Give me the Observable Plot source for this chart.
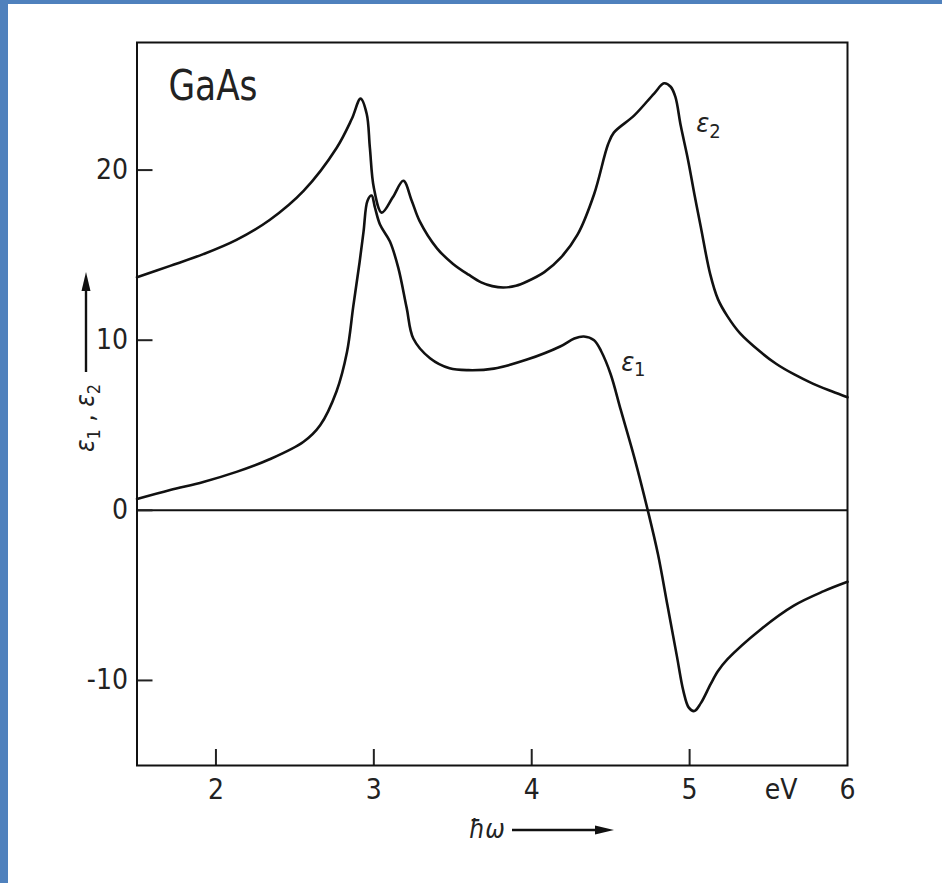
<!DOCTYPE html>
<html>
<head>
<meta charset="utf-8">
<script src="https://cdn.jsdelivr.net/npm/d3@7"></script>
<script src="https://cdn.jsdelivr.net/npm/@observablehq/plot@0.6"></script>
<style>
  html, body { margin: 0; padding: 0; background: #fff; }
  #wrap { position: relative; width: 942px; height: 883px; overflow: hidden; background: #fff; }
  #chart { position: absolute; left: 0; top: 0; }
  #edgeTop { position: absolute; left: 0; top: 0; width: 942px; height: 4px; background: #4f81bd; }
  #edgeLeft { position: absolute; left: 0; top: 0; width: 8px; height: 883px; background: #4f81bd; }
  svg text { font-stretch: condensed; }
</style>
</head>
<body>
<div id="wrap">
  <div id="chart"></div>
  <div id="edgeTop"></div>
  <div id="edgeLeft"></div>
</div>
<script>
// Dielectric function of GaAs: real part ε1 and imaginary part ε2 versus photon energy (eV)
const sampleName = "GaAs";

const energyE2 = [1.5, 1.71, 1.92, 2.13, 2.34, 2.555, 2.764, 2.86, 2.916, 2.955, 2.975, 3.0, 3.05, 3.12, 3.187, 3.24, 3.29, 3.40, 3.50, 3.60, 3.68, 3.75, 3.82, 3.90, 3.97, 4.08, 4.184, 4.29, 4.395, 4.483, 4.52, 4.648, 4.775, 4.838, 4.88, 4.91, 4.944, 4.99, 5.03, 5.07, 5.13, 5.18, 5.24, 5.32, 5.45, 5.55, 5.66, 5.78, 5.9, 6.0];
const eps2 = [13.7, 14.37, 15.06, 15.9, 17.07, 18.78, 21.3, 23.0, 24.2, 23.3, 21.3, 18.96, 17.5, 18.4, 19.37, 18.2, 17.0, 15.4, 14.5, 13.85, 13.4, 13.18, 13.1, 13.2, 13.45, 14.0, 14.85, 16.2, 18.58, 21.5, 22.2, 23.2, 24.5, 25.1, 24.9, 24.3, 22.6, 20.6, 18.6, 16.7, 13.9, 12.4, 11.4, 10.4, 9.3, 8.6, 8.0, 7.45, 7.0, 6.65];

const energyE1 = [1.5, 1.71, 1.92, 2.13, 2.34, 2.555, 2.66, 2.764, 2.83, 2.87, 2.91, 2.935, 2.96, 2.986, 3.007, 3.039, 3.102, 3.155, 3.208, 3.25, 3.356, 3.48, 3.6, 3.76, 3.97, 4.18, 4.27, 4.33, 4.395, 4.44, 4.5, 4.564, 4.65, 4.735, 4.80, 4.86, 4.92, 4.96, 4.995, 5.03, 5.07, 5.134, 5.18, 5.24, 5.45, 5.66, 5.85, 6.0];
const eps1 = [0.67, 1.2, 1.67, 2.26, 3.0, 4.03, 5.0, 7.0, 9.3, 12.0, 14.6, 16.4, 18.2, 18.5, 17.8, 16.8, 15.8, 14.25, 11.9, 10.1, 8.94, 8.35, 8.24, 8.33, 8.86, 9.63, 10.1, 10.22, 10.0, 9.35, 8.0, 5.9, 3.1, 0, -2.6, -5.6, -8.6, -10.6, -11.6, -11.8, -11.35, -10.2, -9.45, -8.75, -7.0, -5.6, -4.75, -4.2];

const xTicks = [2, 3, 4, 5, 6];
const yTicks = [-10, 0, 10, 20];
const xUnit = "eV";
const xUnitAt = 5.58;

// curve labels: symbol plus subscript, anchored near each curve
const labelSymbols = ["ε", "ε"];
const labelSubs = ["2", "1"];
const labelEnergy = [5.084, 4.608];
const labelValue = [22.76, 8.72];

const rowsE2 = energyE2.map((e, i) => ({energy: e, value: eps2[i]}));
const rowsE1 = energyE1.map((e, i) => ({energy: e, value: eps1[i]}));
const curveLabels = labelSymbols.map((s, i) => ({symbol: s, sub: labelSubs[i], energy: labelEnergy[i], value: labelValue[i]}));

const W = 942, H = 883;
const mL = 136.5, mR = 95, mT = 42, mB = 118;
const innerW = W - mL - mR;
const innerH = H - mT - mB;
const narrow = "'DejaVu Sans Condensed', 'DejaVu Sans', sans-serif";
const greek = "'DejaVu Sans', sans-serif";
const ink = "#111";

const plot = Plot.plot({
  width: W,
  height: H,
  marginLeft: mL,
  marginRight: mR,
  marginTop: mT,
  marginBottom: mB,
  style: {fontFamily: narrow, fontSize: "28px", color: "#222", background: "transparent", overflow: "visible"},
  x: {domain: [1.5, 6]},
  y: {domain: [-15, 27.5]},
  marks: [
    Plot.ruleY([0], {stroke: ink, strokeWidth: 2}),
    // short inward tick marks
    Plot.tickY(yTicks, {y: d => d, stroke: "#222", strokeWidth: 2, insetRight: innerW - 16}),
    Plot.tickX(xTicks.filter(d => d < 6), {x: d => d, stroke: "#222", strokeWidth: 2, insetTop: innerH - 16}),
    Plot.axisY({ticks: yTicks, tickSize: 0, tickPadding: 9, tickFormat: d => String(d), label: null}),
    Plot.axisX({ticks: xTicks, tickSize: 0, tickPadding: 14, tickFormat: d => String(d), label: null}),
    Plot.text([xUnit], {x: xUnitAt, frameAnchor: "bottom", text: d => d, dy: 14, lineAnchor: "top", fontSize: 28, fill: "#222"}),
    Plot.frame({stroke: ink, strokeWidth: 2}),
    Plot.line(rowsE2, {x: "energy", y: "value", curve: "catmull-rom", stroke: ink, strokeWidth: 2.6}),
    Plot.line(rowsE1, {x: "energy", y: "value", curve: "catmull-rom", stroke: ink, strokeWidth: 2.6}),
    Plot.text([sampleName], {frameAnchor: "top-left", text: d => d, dx: 31.5, dy: 27, textAnchor: "start", lineAnchor: "top", fontSize: 43, fill: "#222"}),
    Plot.text(curveLabels, {x: "energy", y: "value", text: "symbol", fontFamily: greek, fontStyle: "italic", fontSize: 27, fill: "#222"}),
    Plot.text(curveLabels, {x: "energy", y: "value", text: "sub", fontSize: 20, dx: 12, dy: 8, fill: "#222"})
  ]
});

const svg = d3.select(plot);

// narrow lettering for the sample name
svg.selectAll("text").filter(function() { return this.textContent === sampleName; })
  .attr("textLength", 89).attr("lengthAdjust", "spacingAndGlyphs");

// axis titles with arrows
const g = svg.append("g").attr("fill", "#222").attr("stroke", "none");

// vertical title: ε1 , ε2 with an upward arrow
const yTitle = g.append("text")
  .attr("transform", "translate(94,418) rotate(-90)")
  .attr("text-anchor", "middle")
  .attr("font-family", greek)
  .attr("font-size", 26);
yTitle.append("tspan").attr("font-style", "italic").text("ε");
yTitle.append("tspan").attr("font-family", narrow).attr("font-size", 18).attr("dy", 6).text("1");
yTitle.append("tspan").attr("dy", -6).text(" , ");
yTitle.append("tspan").attr("font-style", "italic").text("ε");
yTitle.append("tspan").attr("font-family", narrow).attr("font-size", 18).attr("dy", 6).text("2");

g.append("line").attr("x1", 86).attr("x2", 86).attr("y1", 372).attr("y2", 288)
  .attr("stroke", "#111").attr("stroke-width", 2.4);
g.append("path").attr("d", "M86,272 L81.5,291 L90.5,291 Z").attr("fill", "#111");

// horizontal title: ħω with a rightward arrow
g.append("text")
  .attr("x", 487).attr("y", 838)
  .attr("text-anchor", "middle")
  .attr("font-family", greek)
  .attr("font-style", "italic")
  .attr("font-size", 26)
  .text("ħω");
g.append("line").attr("x1", 512).attr("x2", 598).attr("y1", 830).attr("y2", 830)
  .attr("stroke", "#111").attr("stroke-width", 2.4);
g.append("path").attr("d", "M614,830 L595,825.5 L595,834.5 Z").attr("fill", "#111");

document.getElementById("chart").appendChild(plot);
</script>
</body>
</html>
